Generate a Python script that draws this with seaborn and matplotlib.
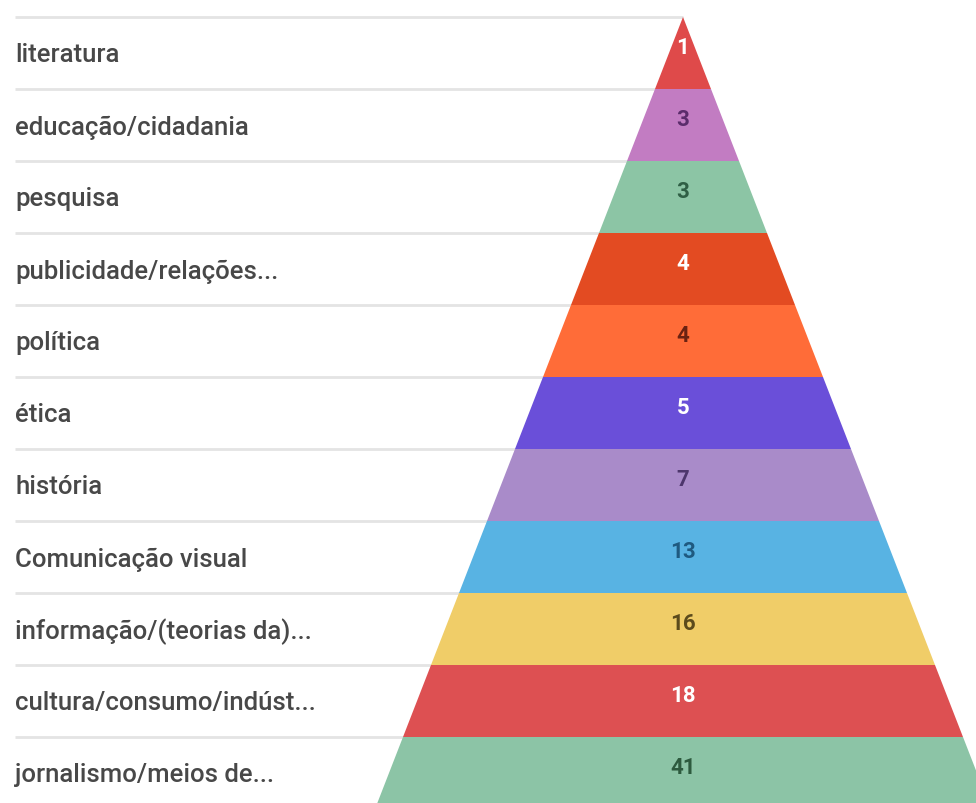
import matplotlib
matplotlib.use("Agg")
import matplotlib.pyplot as plt
import seaborn as sns

# Topics ordered from the tip of the pyramid to its base
categories = [
    "literatura",
    "educação/cidadania",
    "pesquisa",
    "publicidade/relações...",
    "política",
    "ética",
    "história",
    "Comunicação visual",
    "informação/(teorias da)...",
    "cultura/consumo/indúst...",
    "jornalismo/meios de...",
]
counts = [1, 3, 3, 4, 4, 5, 7, 13, 16, 18, 41]
band_colors = [
    "#df4a4a", "#c27cc2", "#8cc5a5", "#e34b22", "#ff6c38", "#6a4fd9",
    "#a98bc9", "#58b3e3", "#f0cd68", "#dd5052", "#8cc4a6",
]
value_colors = [
    "#ffffff", "#5b2c6b", "#2f5f45", "#ffffff", "#6a2212", "#ffffff",
    "#4d366c", "#1f5a80", "#5c4b1c", "#ffffff", "#2d5a3e",
]

sns.set_theme(style="white")
plt.rcParams["font.family"] = ["Roboto", "DejaVu Sans"]

W, H, DPI = 976, 804, 100
fig = plt.figure(figsize=(W / DPI, H / DPI), dpi=DPI)
ax = fig.add_axes([0, 0, 1, 1])

# pixel-like layout: one row per topic, apex at x=0
row_px = 72.0
top_px = 18.0
cx = 683.0
slope = 28.0  # half-width growth per row

n = len(categories)
ax.set_xlim(-cx, W - cx)
ax.set_ylim((H - top_px) / row_px, -top_px / row_px)
ax.axis("off")

# horizontal separators on the label side
for r in range(n + 1):
    ax.plot([15 - cx, 0], [r, r], color="#e4e4e4", lw=2.0, zorder=1,
            solid_capstyle="butt")

for i, (cat, val) in enumerate(zip(categories, counts)):
    w0, w1 = slope * i, slope * (i + 1)
    ax.fill([-w0, w0, w1, -w1], [i, i, i + 1, i + 1],
            color=band_colors[i], lw=0, zorder=2)
    ax.text(15 - cx, i + 0.52, cat, ha="left", va="center",
            fontsize=18.5, color="#484848", fontweight="medium", zorder=3)
    ax.text(0, i + 0.42, str(val), ha="center", va="center",
            fontsize=16, color=value_colors[i], fontweight="bold", zorder=3)

fig.savefig("out.png", dpi=DPI, facecolor="white")
